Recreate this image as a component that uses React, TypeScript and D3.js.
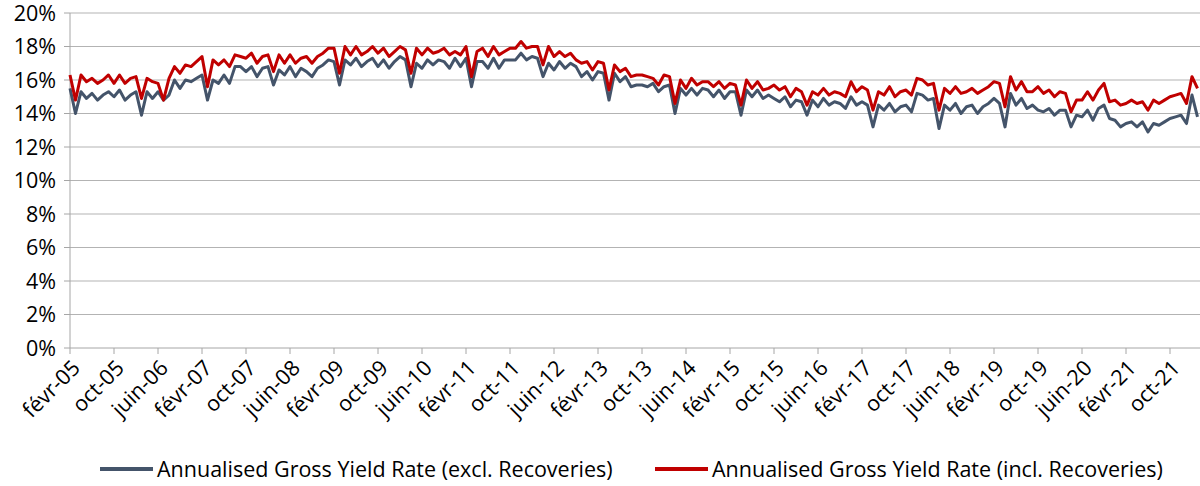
import * as d3 from "d3";
import React from "react";

// monthly series, févr-05 .. mars-22
const excl = [
  15.5, 14.0, 15.3, 14.9, 15.2, 14.8, 15.1, 15.3, 15.0, 15.4, 14.8, 15.1, 15.3, 13.9, 15.3, 14.9, 15.3, 14.8, 15.1, 16.0,
  15.5, 16.0, 15.9, 16.1, 16.3, 14.8, 16.0, 15.8, 16.3, 15.8, 16.8, 16.8, 16.5, 16.8, 16.2, 16.7, 16.8, 15.7, 16.6, 16.3,
  16.8, 16.2, 16.7, 16.5, 16.2, 16.7, 16.9, 17.2, 17.1, 15.7, 17.2, 16.9, 17.3, 16.8, 17.1, 17.3, 16.8, 17.2, 16.7, 17.1,
  17.4, 17.2, 15.6, 17.0, 16.7, 17.2, 16.9, 17.2, 17.1, 16.7, 17.3, 16.8, 17.3, 15.6, 17.1, 17.1, 16.7, 17.3, 16.7, 17.2,
  17.2, 17.2, 17.6, 17.2, 17.4, 17.3, 16.2, 17.0, 16.6, 17.1, 16.7, 17.0, 16.8, 16.2, 16.5, 16.0, 16.5, 16.4, 14.8, 16.4,
  15.9, 16.2, 15.6, 15.7, 15.7, 15.6, 15.8, 15.3, 15.6, 15.7, 14.0, 15.5, 15.1, 15.5, 15.1, 15.5, 15.4, 15.0, 15.4, 14.9,
  15.3, 15.3, 13.9, 15.4, 15.0, 15.4, 14.9, 15.1, 14.9, 14.7, 15.0, 14.4, 14.8, 14.7, 13.9, 14.8, 14.4, 14.9, 14.5, 14.7,
  14.6, 14.3, 15.0, 14.5, 14.7, 14.5, 13.2, 14.5, 14.2, 14.6, 14.1, 14.4, 14.5, 14.1, 15.2, 15.1, 14.8, 14.9, 13.1, 14.5,
  14.2, 14.6, 14.0, 14.4, 14.5, 14.0, 14.4, 14.6, 14.9, 14.6, 13.2, 15.2, 14.5, 14.9, 14.3, 14.5, 14.2, 14.1, 14.3, 13.9,
  14.2, 14.2, 13.2, 13.9, 13.8, 14.2, 13.6, 14.3, 14.5, 13.7, 13.6, 13.2, 13.4, 13.5, 13.2, 13.5, 12.9, 13.4, 13.3, 13.5,
  13.7, 13.8, 13.9, 13.4, 15.1, 13.8,
];

const incl = [
  16.3, 14.8, 16.3, 15.9, 16.1, 15.8, 16.0, 16.3, 15.8, 16.3, 15.8, 16.1, 16.2, 14.9, 16.1, 15.9, 15.8, 14.8, 16.1, 16.8,
  16.4, 16.9, 16.8, 17.1, 17.4, 15.6, 17.2, 16.9, 17.2, 16.8, 17.5, 17.4, 17.3, 17.6, 17.0, 17.4, 17.5, 16.5, 17.5, 17.0,
  17.5, 17.0, 17.3, 17.4, 17.0, 17.4, 17.6, 17.9, 17.9, 16.4, 18.0, 17.5, 18.0, 17.5, 17.7, 18.0, 17.6, 17.9, 17.4, 17.7,
  18.0, 17.8, 16.4, 17.9, 17.5, 17.9, 17.6, 17.7, 17.9, 17.5, 17.7, 17.5, 18.0, 16.2, 17.7, 17.9, 17.4, 18.0, 17.5, 17.7,
  17.9, 17.9, 18.3, 17.9, 18.0, 18.0, 16.9, 18.0, 17.4, 17.7, 17.4, 17.6, 17.2, 17.0, 17.1, 16.6, 17.1, 17.0, 15.4, 16.9,
  16.5, 16.7, 16.2, 16.3, 16.3, 16.2, 16.1, 15.7, 16.3, 16.2, 14.6, 16.0, 15.5, 16.1, 15.7, 15.9, 15.9, 15.6, 15.9, 15.5,
  15.8, 15.7, 14.5, 16.0, 15.5, 15.9, 15.4, 15.5, 15.7, 15.4, 15.6, 15.0, 15.5, 15.3, 14.5, 15.3, 15.1, 15.5, 15.1, 15.3,
  15.2, 15.0, 15.9, 15.3, 15.6, 15.4, 14.2, 15.3, 15.1, 15.6, 15.0, 15.3, 15.4, 15.1, 16.1, 16.0, 15.7, 15.8, 14.2, 15.5,
  15.2, 15.6, 15.2, 15.3, 15.5, 15.2, 15.4, 15.6, 15.9, 15.8, 14.4, 16.2, 15.4, 15.9, 15.3, 15.3, 15.6, 15.2, 15.4, 15.0,
  15.3, 15.2, 14.1, 14.8, 14.8, 15.3, 14.8, 15.4, 15.8, 14.7, 14.8, 14.5, 14.6, 14.8, 14.6, 14.7, 14.2, 14.8, 14.6, 14.8,
  15.0, 15.1, 15.2, 14.6, 16.2, 15.5,
];

const monthNames = ["janv", "févr", "mars", "avr", "mai", "juin", "juil", "août", "sept", "oct", "nov", "déc"];
const yTicks = [0, 2, 4, 6, 8, 10, 12, 14, 16, 18, 20];
const seriesNames = [
  "Annualised Gross Yield Rate (excl. Recoveries)",
  "Annualised Gross Yield Rate (incl. Recoveries)",
];
const colors = ["#44546A", "#C00000"];

const W = 1200;
const H = 486;
const font = "'Open Sans', sans-serif";
const fs = 21.5;

// month labels starting Feb 2005
const months = excl.map((_, i) => {
  const m = (1 + i) % 12;
  const y = 2005 + Math.floor((1 + i) / 12);
  return `${monthNames[m]}-${String(y).slice(2)}`;
});

export default function App() {
  const x = d3.scalePoint<string>().domain(months).range([70, 1197.5]);
  const y = d3.scaleLinear().domain([0, 20]).range([348, 13]);

  const line = d3
    .line<number>()
    .x((d, i) => x(months[i]) as number)
    .y((d) => y(d));

  const tickMonths = months.filter((_, i) => i % 8 === 0);

  return (
    <svg
      width={W}
      height={H}
      style={{ position: "absolute", left: 0, top: 0, background: "#fff" }}
    >
      {/* gridlines */}
      {yTicks.slice(1).map((t) => (
        <line key={t} x1={70} x2={1200} y1={y(t)} y2={y(t)} stroke="#b3b3b3" strokeWidth={1} />
      ))}
      {/* axes */}
      <line x1={70} x2={70} y1={y(20)} y2={y(0)} stroke="#a6a6a6" strokeWidth={1} />
      <line x1={70} x2={1200} y1={y(0)} y2={y(0)} stroke="#a6a6a6" strokeWidth={1} />
      {yTicks.map((t) => (
        <g key={t}>
          <line x1={64} x2={70} y1={y(t)} y2={y(t)} stroke="#a6a6a6" />
          <text
            x={56}
            y={y(t)}
            dy="0.35em"
            textAnchor="end"
            fontFamily={font}
            fontSize={fs}
            fill="#000"
          >
            {t}%
          </text>
        </g>
      ))}
      {tickMonths.map((m) => {
        const px = x(m) as number;
        return (
          <g key={m}>
            <line x1={px} x2={px} y1={348} y2={354} stroke="#a6a6a6" />
            <text
              transform={`translate(${px + 6},${364}) rotate(-45)`}
              textAnchor="end"
              dy="0.35em"
              fontFamily={font}
              fontSize={fs}
              fill="#000"
            >
              {m}
            </text>
          </g>
        );
      })}
      {/* series */}
      {[excl, incl].map((s, k) => (
        <path
          key={k}
          d={line(s) as string}
          fill="none"
          stroke={colors[k]}
          strokeWidth={3}
          strokeLinejoin="round"
        />
      ))}
      {/* legend */}
      {[100, 655].map((lx, k) => (
        <g key={k}>
          <line x1={lx} x2={lx + 53} y1={469} y2={469} stroke={colors[k]} strokeWidth={4} />
          <text
            x={lx + 57}
            y={469}
            dy="0.35em"
            fontFamily={font}
            fontSize={fs}
            fill="#000"
          >
            {seriesNames[k]}
          </text>
        </g>
      ))}
    </svg>
  );
}
